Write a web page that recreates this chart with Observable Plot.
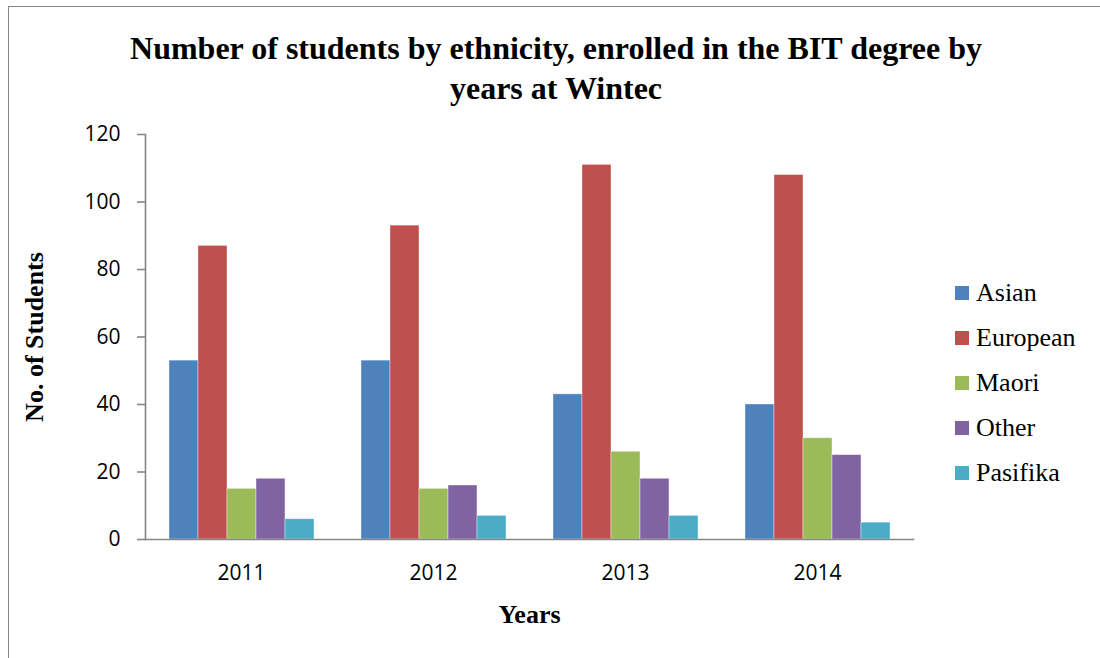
<!DOCTYPE html>
<html>
<head>
<meta charset="utf-8">
<script src="https://cdn.jsdelivr.net/npm/d3@7"></script>
<script src="https://cdn.jsdelivr.net/npm/@observablehq/plot@0.6"></script>
<style>
  body { margin: 0; background: #fff; }
  #page { position: relative; width: 1100px; height: 658px; overflow: hidden; background: #fff; }
  #border { position: absolute; left: 8px; top: 6px; right: -4px; bottom: -4px;
            border-left: 1px solid #868686; border-top: 1px solid #868686; pointer-events: none; }
  #title { position: absolute; left: 12px; width: 1088px; top: 28px; text-align: center;
           font: bold 32px "Liberation Serif", serif; line-height: 40px; color: #000; }
  #chart { position: absolute; left: 0; top: 112px; }
  #legend { position: absolute; left: 955px; top: 270px; font: 26px "Liberation Serif", serif; color: #000; }
  .item { height: 45px; display: flex; align-items: center; white-space: nowrap; }
  .swatch { width: 14px; height: 14px; margin-right: 7px; flex: none; }
  #chart [aria-label="y-axis label"] text,
  #chart [aria-label="fx-axis label"] text { font: bold 26px "Liberation Serif", serif; }
  #chart [aria-label="y-axis tick label"] text,
  #chart [aria-label="fx-axis tick label"] text { font-family: "Open Sans", sans-serif; font-size: 21px; }
</style>
</head>
<body>
<div id="page">
  <div id="title">Number of students by ethnicity, enrolled in the BIT degree by<br>years at Wintec</div>
  <div id="chart"></div>
  <div id="legend"></div>
  <div id="border"></div>
</div>
<script>
// Enrolment counts per year, one array per ethnic group
const years = ["2011", "2012", "2013", "2014"];
const groups = ["Asian", "European", "Maori", "Other", "Pasifika"];
const colors = ["#4F81BD", "#C0504D", "#9BBB59", "#8064A2", "#4BACC6"];
const asian = [53, 53, 43, 40];
const european = [87, 93, 111, 108];
const maori = [15, 15, 26, 30];
const other = [18, 16, 18, 25];
const pasifika = [6, 7, 7, 5];
const yTicks = [0, 20, 40, 60, 80, 100, 120];

const series = [asian, european, maori, other, pasifika];
const rows = [];
years.forEach((year, i) => {
  groups.forEach((group, g) => rows.push({year, group, value: series[g][i]}));
});

const axisGrey = "#868686";

const chart = Plot.plot({
  width: 1100,
  height: 546,
  marginLeft: 145,
  marginRight: 187,
  marginTop: 22,
  marginBottom: 119,
  style: {fontFamily: "'Open Sans', sans-serif", fontSize: "21px", color: "#000", background: "transparent"},
  fx: {domain: years, padding: 0},
  x: {domain: groups, paddingInner: 0, paddingOuter: 0.766, axis: null},
  y: {domain: [0, 120]},
  color: {domain: groups, range: colors},
  marks: [
    Plot.barY(rows, {fx: "year", x: "group", y: "value", fill: "group",
                     stroke: "#fff", strokeOpacity: 0.55, strokeWidth: 0.7}),
    // axis lines drawn once across the whole frame
    Plot.frame({anchor: "bottom", facet: "super", stroke: axisGrey, strokeWidth: 1.6}),
    Plot.frame({anchor: "left", facet: "super", stroke: axisGrey, strokeWidth: 1.6}),
    Plot.axisY({
      ticks: yTicks, tickSize: 8, tickPadding: 17, stroke: axisGrey, strokeWidth: 1.6,
      fill: "#000", fontSize: 21, label: "No. of Students", labelAnchor: "center", labelArrow: "none",
      labelOffset: 121
    }),
    Plot.axisFx({
      anchor: "bottom", tickSize: 0, tickPadding: 26, fill: "#000", fontSize: 21,
      label: "Years", labelAnchor: "center", labelArrow: "none", labelOffset: 83
    })
  ]
});
document.getElementById("chart").appendChild(chart);

// Legend to the right of the plot
const legend = document.getElementById("legend");
groups.forEach((group, g) => {
  const item = document.createElement("div");
  item.className = "item";
  const sw = document.createElement("span");
  sw.className = "swatch";
  sw.style.background = colors[g];
  const label = document.createElement("span");
  label.textContent = group;
  item.append(sw, label);
  legend.appendChild(item);
});
</script>
</body>
</html>
